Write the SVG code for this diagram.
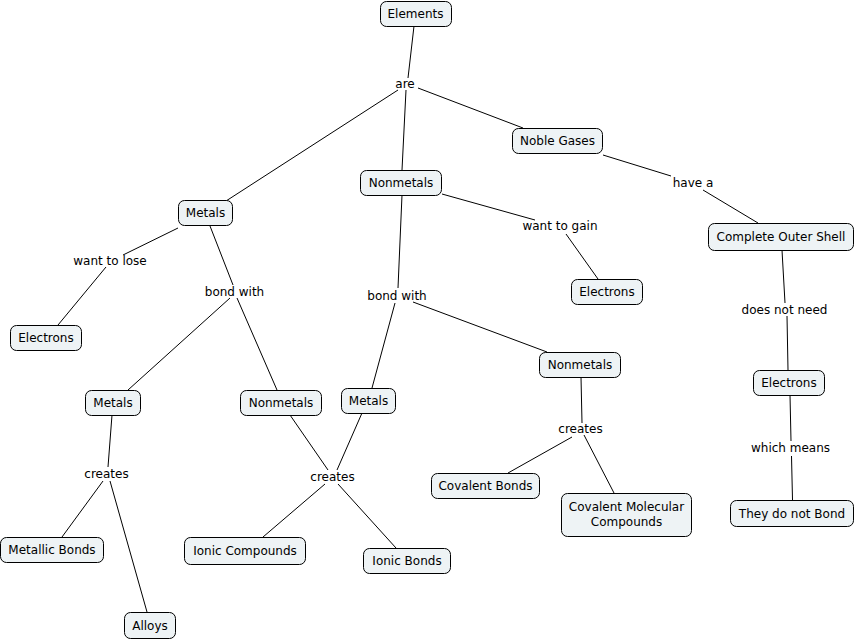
<svg xmlns="http://www.w3.org/2000/svg" width="856" height="641" viewBox="0 0 856 641">
<style>
.n rect{fill:#eef3f5;stroke:#000;stroke-width:1}
text{font-family:"DejaVu Sans",Verdana,sans-serif;font-size:12px;fill:#000;text-anchor:middle}
.c line{stroke:#000;stroke-width:1;fill:none}
</style>
<rect x="0" y="0" width="856" height="641" fill="#fff"/>
<g class="c" id="connectors">
<line x1="414" y1="26" x2="408" y2="78"/>
<line x1="398" y1="90" x2="226" y2="201"/>
<line x1="406" y1="90" x2="402" y2="170"/>
<line x1="418" y1="88" x2="523" y2="128"/>
<line x1="603" y1="155" x2="671" y2="176"/>
<line x1="703" y1="190" x2="758" y2="223"/>
<line x1="442" y1="194" x2="535" y2="220"/>
<line x1="566" y1="234" x2="598" y2="279"/>
<line x1="402" y1="195" x2="398" y2="288"/>
<line x1="395" y1="303" x2="372" y2="388"/>
<line x1="413" y1="302" x2="547" y2="352"/>
<line x1="178" y1="228" x2="123" y2="255"/>
<line x1="106" y1="267" x2="58" y2="325"/>
<line x1="210" y1="226" x2="233" y2="285"/>
<line x1="230" y1="298" x2="128" y2="390"/>
<line x1="237" y1="298" x2="277" y2="390"/>
<line x1="112" y1="415" x2="108" y2="467"/>
<line x1="103" y1="481" x2="62" y2="537"/>
<line x1="110" y1="481" x2="147" y2="612"/>
<line x1="290" y1="415" x2="328" y2="470"/>
<line x1="362" y1="413" x2="337" y2="470"/>
<line x1="325" y1="484" x2="263" y2="537"/>
<line x1="338" y1="484" x2="396" y2="548"/>
<line x1="581" y1="377" x2="582" y2="423"/>
<line x1="572" y1="437" x2="508" y2="473"/>
<line x1="584" y1="435" x2="614" y2="493"/>
<line x1="782" y1="250" x2="785" y2="303"/>
<line x1="787" y1="316" x2="788" y2="370"/>
<line x1="790" y1="395" x2="791" y2="441"/>
<line x1="791.5" y1="456" x2="792.5" y2="500"/>
</g>
<g id="labels">
<text x="405" y="88">are</text>
<text x="693" y="187">have a</text>
<text x="560" y="230">want to gain</text>
<text x="110" y="265">want to lose</text>
<text x="234.5" y="296">bond with</text>
<text x="397" y="300">bond with</text>
<text x="784.5" y="314">does not need</text>
<text x="790.5" y="452">which means</text>
<text x="106.5" y="478">creates</text>
<text x="332.5" y="481">creates</text>
<text x="580.5" y="433">creates</text>
</g>
<g class="n" id="n-elements"><rect x="380.5" y="1.5" width="71" height="25" rx="6"/><text x="415.5" y="18">Elements</text></g>
<g class="n" id="n-noble"><rect x="512.5" y="128.5" width="90" height="25" rx="6"/><text x="557.5" y="145">Noble Gases</text></g>
<g class="n" id="n-nonmetals1"><rect x="360.5" y="170.5" width="81" height="25" rx="6"/><text x="401" y="187">Nonmetals</text></g>
<g class="n" id="n-metals1"><rect x="178.5" y="200.5" width="54" height="25" rx="6"/><text x="205.5" y="217">Metals</text></g>
<g class="n" id="n-shell"><rect x="708.5" y="223.5" width="145" height="27" rx="6"/><text x="781" y="241">Complete Outer Shell</text></g>
<g class="n" id="n-electrons1"><rect x="571.5" y="279.5" width="71" height="25" rx="6"/><text x="607" y="296">Electrons</text></g>
<g class="n" id="n-electrons2"><rect x="10.5" y="325.5" width="71" height="25" rx="6"/><text x="46" y="342">Electrons</text></g>
<g class="n" id="n-nonmetals2"><rect x="539.5" y="352.5" width="81" height="25" rx="6"/><text x="580" y="369">Nonmetals</text></g>
<g class="n" id="n-electrons3"><rect x="753.5" y="370.5" width="71" height="25" rx="6"/><text x="789" y="387">Electrons</text></g>
<g class="n" id="n-metals2"><rect x="85.5" y="390.5" width="55" height="25" rx="6"/><text x="113" y="407">Metals</text></g>
<g class="n" id="n-nonmetals3"><rect x="240.5" y="390.5" width="81" height="25" rx="6"/><text x="281" y="407">Nonmetals</text></g>
<g class="n" id="n-metals3"><rect x="341.5" y="388.5" width="54" height="25" rx="6"/><text x="368.5" y="405">Metals</text></g>
<g class="n" id="n-covbonds"><rect x="431.5" y="473.5" width="108" height="25" rx="6"/><text x="485.5" y="490">Covalent Bonds</text></g>
<g class="n" id="n-covmol"><rect x="561.5" y="493.5" width="130" height="43" rx="6"/><text x="626.5" y="511">Covalent Molecular</text><text x="626.5" y="526">Compounds</text></g>
<g class="n" id="n-nobond"><rect x="730.5" y="500.5" width="123" height="26" rx="6"/><text x="792" y="518">They do not Bond</text></g>
<g class="n" id="n-metallic"><rect x="0.5" y="537.5" width="103" height="25" rx="6"/><text x="52" y="554">Metallic Bonds</text></g>
<g class="n" id="n-ioniccomp"><rect x="184.5" y="537.5" width="121" height="27" rx="6"/><text x="245" y="555">Ionic Compounds</text></g>
<g class="n" id="n-ionicbonds"><rect x="363.5" y="548.5" width="87" height="25" rx="6"/><text x="407" y="565">Ionic Bonds</text></g>
<g class="n" id="n-alloys"><rect x="124.5" y="612.5" width="51" height="26" rx="6"/><text x="150" y="630">Alloys</text></g>
</svg>
